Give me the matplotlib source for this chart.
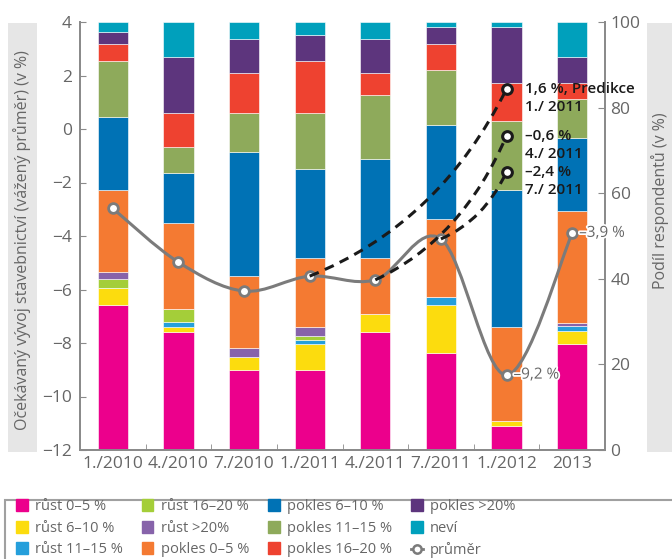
import numpy as np
import matplotlib
matplotlib.use('Agg')
import matplotlib.pyplot as plt
from matplotlib.path import Path
from matplotlib.patches import PathPatch, Rectangle, Patch
from matplotlib.lines import Line2D
import matplotlib.patheffects as pe

plt.rcParams['font.family'] = ['Open Sans', 'DejaVu Sans']

# data
obdobi = ['1./2010', '4./2010', '7./2010', '1./2011', '4./2011', '7./2011', '1./2012', '2013']
kategorie = ['růst 0–5 %', 'růst 6–10 %', 'růst 11–15 %', 'růst 16–20 %', 'růst >20%',
             'pokles 0–5 %', 'pokles 6–10 %', 'pokles 11–15 %', 'pokles 16–20 %',
             'pokles >20%', 'neví']
barvy = ['#EC008C', '#FCDC0E', '#259FDB', '#A4CE39', '#8763AA',
         '#F47A32', '#0072B5', '#8EAA5B', '#EE4230', '#5D357D', '#00A0BC']

rust_0_5 = [33.9, 27.6, 18.7, 18.7, 27.6, 22.7, 5.7, 24.8]
rust_6_10 = [3.9, 1.2, 3.0, 6.1, 4.1, 11.2, 1.1, 2.9]
rust_11_15 = [0.0, 1.2, 0.0, 0.9, 0.0, 1.8, 0.0, 1.3]
rust_16_20 = [2.1, 2.9, 0.0, 0.9, 0.0, 0.0, 0.0, 0.0]
rust_20 = [1.8, 0.0, 2.1, 2.2, 0.0, 0.0, 0.0, 0.7]
pokles_0_5 = [19.0, 20.1, 16.9, 16.1, 13.2, 18.3, 22.0, 26.1]
pokles_6_10 = [17.2, 11.7, 29.0, 20.8, 23.0, 21.9, 31.9, 17.2]
pokles_11_15 = [13.0, 6.2, 9.0, 13.0, 15.0, 12.9, 16.2, 9.0]
pokles_16_20 = [4.0, 7.8, 9.3, 12.2, 5.1, 6.1, 8.9, 3.8]
pokles_20 = [2.8, 13.2, 8.0, 6.0, 8.0, 3.9, 13.0, 6.1]
nevi = [2.3, 8.1, 4.0, 3.1, 4.0, 1.2, 1.2, 8.1]

prumer = [-2.97, -4.98, -6.06, -5.50, -5.64, -4.11, -9.2, -3.9]

# predikce: od kterého období, hodnota v 1./2012
pred_od = [3, 4, 5]
pred_hodnota = [1.5, -0.25, -1.6]
pred_radek1 = ['1,6 %, Predikce', '–0,6 %', '–2,4 %']
pred_radek2 = ['1./ 2011', '4./ 2011', '7./ 2011']

podily = [rust_0_5, rust_6_10, rust_11_15, rust_16_20, rust_20, pokles_0_5,
          pokles_6_10, pokles_11_15, pokles_16_20, pokles_20, nevi]

seda = '#666666'
fig = plt.figure(figsize=(6.72, 5.59), dpi=100)
ax = fig.add_axes([80 / 672, 1 - 450 / 559, 525 / 672, 428 / 559])
ax2 = ax.twinx()

x = np.arange(len(obdobi))
dno = np.zeros(len(obdobi))
for hodnoty, barva, nazev in zip(podily, barvy, kategorie):
    ax2.bar(x, hodnoty, 0.46, bottom=dno, color=barva, edgecolor='white',
            linewidth=0.4, label=nazev)
    dno = dno + np.array(hodnoty)

ax.set_zorder(ax2.get_zorder() + 1)
ax.patch.set_visible(False)


def catmull(xs, ys, k=6.0):
    pts = list(zip(xs, ys))
    verts = [pts[0]]
    codes = [Path.MOVETO]
    n = len(pts)
    for i in range(n - 1):
        p0 = pts[max(i - 1, 0)]
        p1 = pts[i]
        p2 = pts[i + 1]
        p3 = pts[min(i + 2, n - 1)]
        c1 = (p1[0] + (p2[0] - p0[0]) / k, p1[1] + (p2[1] - p0[1]) / k)
        c2 = (p2[0] - (p3[0] - p1[0]) / k, p2[1] - (p3[1] - p1[1]) / k)
        verts += [c1, c2, p2]
        codes += [Path.CURVE4] * 3
    return Path(verts, codes)


ax.add_patch(PathPatch(catmull(x, prumer), facecolor='none', edgecolor='#7b7b7b',
                       linewidth=2.2, zorder=3))
ax.plot(x, prumer, 'o', color='#7b7b7b', markerfacecolor='white', markersize=7,
        markeredgewidth=2, zorder=4)

# predikce - čárkované křivky
cil = 6
for od, hod, r1, r2 in zip(pred_od, pred_hodnota, pred_radek1, pred_radek2):
    x0, y0 = x[od], prumer[od]
    dx, dy = cil - x0, hod - y0
    verts = [(x0, y0), (x0 + 0.66 * dx, y0 + 0.28 * dy), (cil, hod)]
    ax.add_patch(PathPatch(Path(verts, [Path.MOVETO, Path.CURVE3, Path.CURVE3]),
                           facecolor='none', edgecolor='#1a1a1a', linewidth=2.2,
                           linestyle=(0, (3.2, 2.2)), zorder=5))
    ax.plot(cil, hod, 'o', color='#1a1a1a', markerfacecolor='white', markersize=7,
            markeredgewidth=2.2, zorder=6)
    ax.annotate(r1, (cil, hod), xytext=(13, 0), textcoords='offset points',
                fontsize=11, fontweight='semibold', color='#1a1a1a', va='center',
                ha='left', zorder=7)
    ax.annotate(r2, (cil, hod), xytext=(13, -13), textcoords='offset points',
                fontsize=11, fontweight='semibold', color='#1a1a1a', va='center',
                ha='left', zorder=7)

halo = [pe.withStroke(linewidth=2.5, foreground='white')]
ax.annotate('–9,2 %', (6, prumer[6]), xytext=(5, 0), textcoords='offset points',
            fontsize=11, color=seda, va='center', ha='left', path_effects=halo, zorder=7)
ax.annotate('–3,9 %', (7, prumer[7]), xytext=(5, 0), textcoords='offset points',
            fontsize=11, color=seda, va='center', ha='left', path_effects=halo, zorder=7)

ax.set_xlim(-0.5, 7.5)
ax.set_ylim(-12, 4)
ax2.set_ylim(0, 100)
ax.set_yticks(range(-12, 5, 2))
ax.set_yticklabels([str(v).replace('-', '−') for v in range(-12, 5, 2)])
ax2.set_yticks(range(0, 101, 20))
ax.set_xticks(x)
ax.set_xticklabels(obdobi)
ax.set_xticks(x[:-1] + 0.5, minor=True)

for a in (ax, ax2):
    a.spines['top'].set_visible(False)
    for s in ('left', 'right', 'bottom'):
        a.spines[s].set_color('#8a8a8a')
        a.spines[s].set_linewidth(1.3)
ax.tick_params(axis='y', direction='in', length=4, color='#8a8a8a', labelsize=12.5,
               labelcolor=seda, pad=6)
ax2.tick_params(axis='y', direction='in', length=5, color='#8a8a8a', labelsize=12.5,
                labelcolor=seda, pad=4)
ax.tick_params(axis='x', which='major', length=0, labelsize=12.5, labelcolor=seda, pad=4)
ax.tick_params(axis='x', which='minor', direction='in', length=4, color='#8a8a8a')
for t in ax.get_xticklabels() + ax.get_yticklabels() + ax2.get_yticklabels():
    t.set_fontweight('medium')

# popisky os v šedých rámečcích
fig.add_artist(Rectangle((8 / 672, 1 - 452 / 559), 29 / 672, 429 / 559,
                         transform=fig.transFigure, facecolor='#e6e6e6', edgecolor='none'))
fig.text(22.5 / 672, 1 - 240 / 559, 'Očekávaný vývoj stavebnictví (vážený průměr) (v %)',
         rotation=90, ha='center', va='center', fontsize=11.5, color=seda)
fig.add_artist(Rectangle((647 / 672, 1 - 452 / 559), 40 / 672, 429 / 559,
                         transform=fig.transFigure, facecolor='#e6e6e6', edgecolor='none'))
fig.text(660 / 672, 1 - 201 / 559, 'Podíl respondentů (v %)',
         rotation=90, ha='center', va='center', fontsize=11.5, color=seda)

# legenda
fig.add_artist(Rectangle((5 / 672, -20 / 559), 700 / 672, 79 / 559,
                         transform=fig.transFigure, facecolor='white',
                         edgecolor='#a0a0a0', linewidth=1.5))
handles = [Patch(color=b) for b in barvy]
handles.append(Line2D([], [], color='#7b7b7b', lw=2, marker='o', markersize=6,
                      markerfacecolor='white', markeredgewidth=1.8))
leg = fig.legend(handles, kategorie + ['průměr'], ncol=4, loc='upper left',
                 bbox_to_anchor=(16 / 672, 1 - 499 / 559), frameon=False,
                 fontsize=10.5, handlelength=0.8, handleheight=0.9, handletextpad=0.5,
                 columnspacing=1.3, labelspacing=0.45, borderpad=0, borderaxespad=0)
for t in leg.get_texts():
    t.set_color(seda)

plt.savefig('out.png', dpi=100)
